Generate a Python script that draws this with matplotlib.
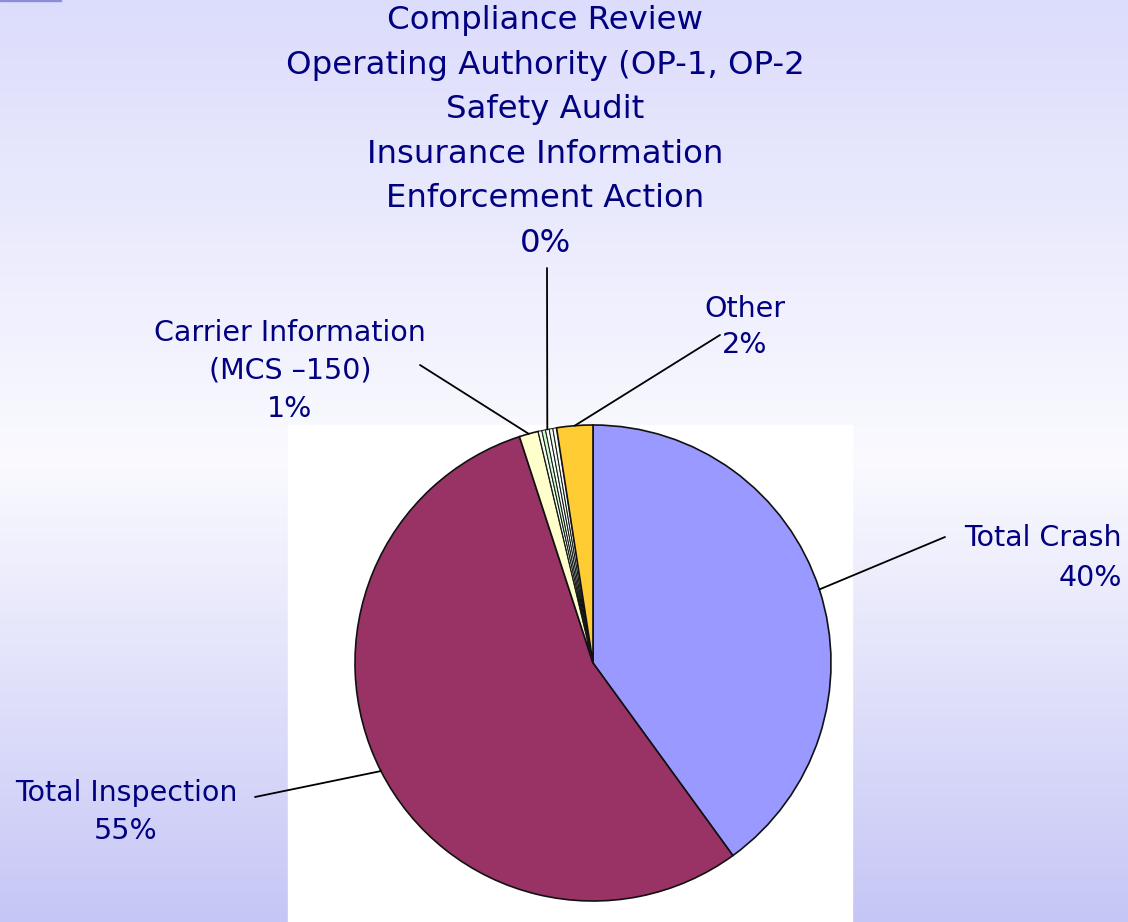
import matplotlib
matplotlib.use('Agg')
import matplotlib.pyplot as plt
import numpy as np
from matplotlib.colors import LinearSegmentedColormap
from matplotlib.patches import Rectangle

## SHARE OF RECORDS PER SOURCE (percent)
labels = ['Total Crash', 'Total Inspection', 'Carrier Information\n(MCS \u2013150)',
          'Compliance Review', 'Operating Authority (OP-1, OP-2', 'Safety Audit',
          'Insurance Information', 'Enforcement Action', 'Other']
shares = [40.0, 55.0, 1.3, 0.25, 0.25, 0.25, 0.25, 0.25, 2.45]
shown  = ['40%', '55%', '1%', '0%', '0%', '0%', '0%', '0%', '2%']
colors = ['#9999FF', '#993366', '#FFFFCC', '#F4FFF4', '#CCFFCC', '#FFFFFF',
          '#E8FFF0', '#FFFFFF', '#FFCC33']

W, H = 1128, 922
navy = '#000080'

fig = plt.figure(figsize=(W / 100, H / 100), dpi=100)
ax = fig.add_axes([0, 0, 1, 1])

cx, cy, r = 593, H - 663, 238
wedges, _ = ax.pie(shares, colors=colors, startangle=90, counterclock=False,
                   center=(cx, cy), radius=r,
                   wedgeprops=dict(edgecolor='#111111', linewidth=1.2))
for w in wedges:
    w.set_zorder(2)
# thin outlines on the tiny slices so their fill still shows
for w in wedges[3:8]:
    w.set_linewidth(0.7)

# pie() resets the limits, so set them afterwards
ax.set_xlim(0, W)
ax.set_ylim(0, H)
ax.set_aspect('equal')
ax.axis('off')

# background: lavender at top and bottom, almost white in the middle
bg = LinearSegmentedColormap.from_list('bg', [(0.0, '#DCDCFC'), (0.5, '#FAFAFF'), (1.0, '#C6C6F6')])
grad = np.linspace(0, 1, 256).reshape(-1, 1)
ax.imshow(grad, cmap=bg, extent=[0, W, 0, H], aspect='auto', origin='upper', zorder=0)
ax.add_patch(Rectangle((0, H - 1.5), 61, 1.5, color='#8C8CDC', zorder=1))
# white box of the pasted chart picture
ax.add_patch(Rectangle((288, 0), 564, 497, color='white', zorder=1))

def edge_point(w):
    a = np.deg2rad((w.theta1 + w.theta2) / 2)
    return cx + r * np.cos(a), cy + r * np.sin(a)

txt = dict(color=navy, fontsize=20.5, family='DejaVu Sans', zorder=4)
line = dict(arrowstyle='-', color='black', lw=1.3, shrinkA=0, shrinkB=0)

# Total Crash
ax.text(1122, H - 558, labels[0] + '\n' + shown[0], ha='right', va='center',
        multialignment='right', linespacing=1.5, **txt)
ax.annotate('', xy=edge_point(wedges[0]), xytext=(945, H - 537), arrowprops=line)

# Total Inspection
ax.text(126, H - 812, labels[1] + '\n' + shown[1], ha='center', va='center',
        linespacing=1.47, **txt)
ax.annotate('', xy=edge_point(wedges[1]), xytext=(255, H - 797), arrowprops=line)

# Carrier Information
ax.text(290, H - 371, labels[2] + '\n' + shown[2], ha='center', va='center',
        linespacing=1.47, **txt)
ax.annotate('', xy=edge_point(wedges[2]), xytext=(420, H - 365), arrowprops=line)

# the zero slices share one label
top = dict(txt, fontsize=23.3)
ax.text(545, H - 132, '\n'.join(labels[3:8]) + '\n' + shown[3], ha='center', va='center',
        linespacing=1.565, **top)
ax.annotate('', xy=edge_point(wedges[5]), xytext=(547, H - 268), arrowprops=line)

# Other
ax.text(745, H - 327, labels[8] + '\n' + shown[8], ha='center', va='center',
        linespacing=1.33, **txt)
ax.annotate('', xy=edge_point(wedges[8]), xytext=(720, H - 335), arrowprops=line)

fig.savefig('out.png', dpi=100)
